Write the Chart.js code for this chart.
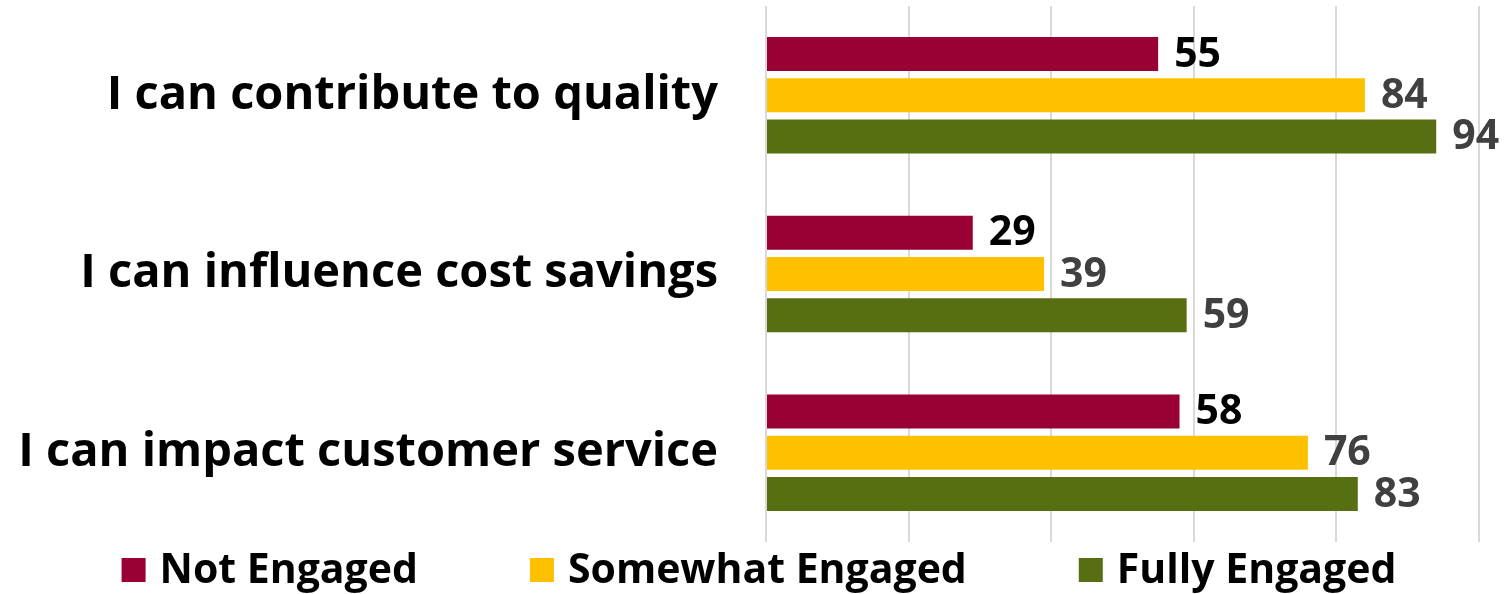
<!DOCTYPE html>
<html>
<head>
<meta charset="utf-8">
<style>
  html, body { margin: 0; padding: 0; background: #ffffff; }
  #wrap { width: 1504px; height: 594px; position: relative; }
</style>
<script src="https://cdn.jsdelivr.net/npm/chart.js@4"></script>
</head>
<body>
<div id="wrap"><canvas id="chart" width="1504" height="594"></canvas></div>
<script>
// Statements and engagement groups
const categories = [
  'I can contribute to quality',
  'I can influence cost savings',
  'I can impact customer service'
];
const seriesNames = ['Not Engaged', 'Somewhat Engaged', 'Fully Engaged'];
const notEngaged = [55, 29, 58];
const somewhatEngaged = [84, 39, 76];
const fullyEngaged = [94, 59, 83];
const xTicks = [0, 20, 40, 60, 80, 100];

const seriesColors = ['#990033', '#FFC000', '#586E12'];
const valueColors = ['#000000', '#404040', '#404040'];
const FONT = '"Open Sans", Lato, sans-serif';

// Value labels drawn just past the end of each bar
const valueLabels = {
  id: 'valueLabels',
  afterDatasetsDraw(chart) {
    const ctx = chart.ctx;
    ctx.save();
    ctx.font = 'bold 41px ' + FONT;
    ctx.textAlign = 'left';
    ctx.textBaseline = 'middle';
    chart.data.datasets.forEach((ds, di) => {
      const meta = chart.getDatasetMeta(di);
      meta.data.forEach((bar, i) => {
        ctx.fillStyle = valueColors[di];
        ctx.fillText(String(ds.data[i]), bar.x + 16, bar.y + 1);
      });
    });
    ctx.restore();
  }
};

// Legend row along the bottom edge
const bottomLegend = {
  id: 'bottomLegend',
  afterDraw(chart) {
    const ctx = chart.ctx;
    ctx.save();
    ctx.font = 'bold 41px ' + FONT;
    ctx.textBaseline = 'middle';
    ctx.textAlign = 'left';
    const box = 24, boxGap = 14, itemGap = 112;
    const widths = seriesNames.map(n => box + boxGap + ctx.measureText(n).width);
    const total = widths.reduce((a, b) => a + b, 0) + itemGap * (seriesNames.length - 1);
    let x = 759 - total / 2;
    const cy = 570;
    seriesNames.forEach((n, i) => {
      ctx.fillStyle = seriesColors[i];
      ctx.fillRect(x, cy - box / 2, box, box);
      ctx.fillStyle = '#000000';
      ctx.fillText(n, x + box + boxGap, cy + 1);
      x += widths[i] + itemGap;
    });
    ctx.restore();
  }
};

const datasets = [notEngaged, somewhatEngaged, fullyEngaged].map((vals, i) => ({
  label: seriesNames[i],
  data: vals,
  backgroundColor: seriesColors[i],
  borderWidth: 0,
  categoryPercentage: 0.693,
  barPercentage: 0.823
}));

new Chart(document.getElementById('chart'), {
  type: 'bar',
  data: { labels: categories, datasets },
  plugins: [valueLabels, bottomLegend],
  options: {
    indexAxis: 'y',
    responsive: false,
    animation: false,
    events: [],
    layout: { padding: { top: 6, right: 25, bottom: 52, left: 0 } },
    plugins: {
      legend: { display: false },
      tooltip: { enabled: false },
      title: { display: false }
    },
    scales: {
      x: {
        min: 0,
        max: 100,
        afterBuildTicks(scale) { scale.ticks = xTicks.map(v => ({ value: v })); },
        afterFit(scale) { scale.height = 0; },
        ticks: { display: false },
        border: { display: false },
        grid: { color: '#D9D9D9', lineWidth: 2, drawTicks: false }
      },
      y: {
        afterFit(scale) {
          scale.width = 766;
          scale.paddingTop = 0;
          scale.paddingBottom = 0;
        },
        border: { display: false },
        grid: { display: false, drawTicks: false },
        ticks: {
          color: '#000000',
          padding: 48,
          font: { family: FONT, size: 47, weight: 'bold' }
        }
      }
    }
  }
});
</script>
</body>
</html>
